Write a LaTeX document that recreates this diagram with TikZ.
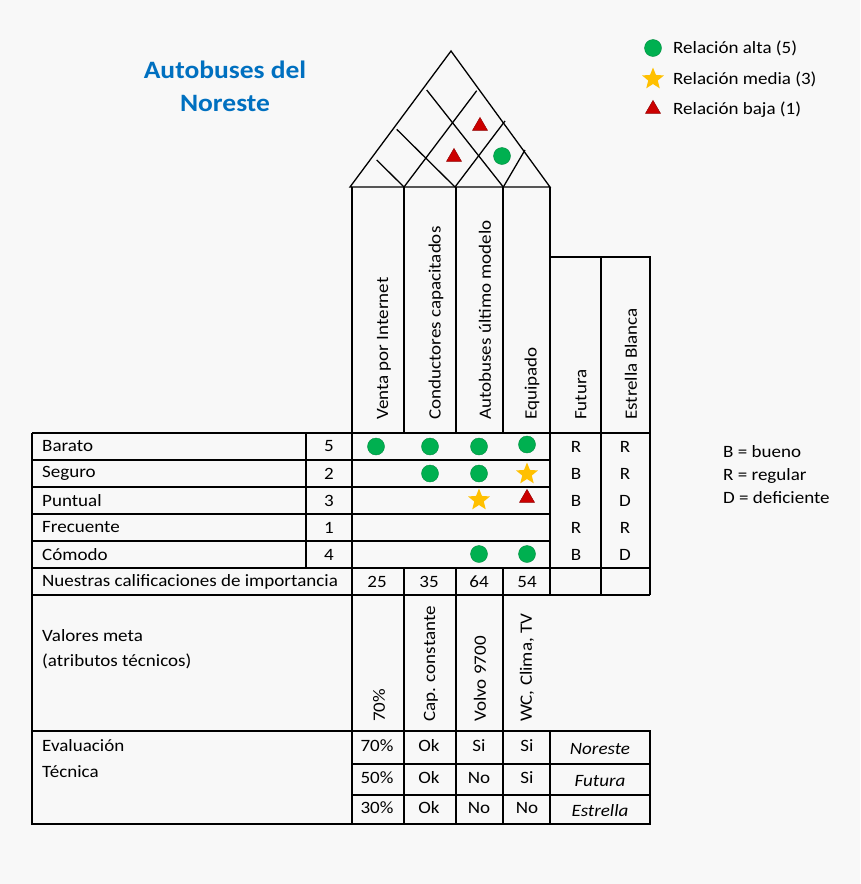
\documentclass[tikz,border=0pt]{standalone}
\usepackage{fontspec}
\setmainfont[FakeStretch=1.1]{Carlito}
\usetikzlibrary{shapes.geometric}
\definecolor{bg}{RGB}{248,248,248}
\definecolor{ttl}{RGB}{0,112,192}
\definecolor{gdot}{RGB}{0,176,80}
\definecolor{ystar}{RGB}{255,192,0}
\definecolor{rtri}{RGB}{204,0,0}
\begin{document}
\begin{tikzpicture}[x=1pt,y=-1pt,
  ln/.style={line width=1.3pt,black},
  t/.style={font=\fontsize{17.3}{20}\selectfont,inner sep=0pt},
  rt/.style={t,rotate=90,anchor=west},
  hi/.style={circle,fill=gdot,draw=gdot!80!black,line width=0.4pt,minimum size=17pt,inner sep=0pt},
  me/.style={star,star points=5,star point ratio=2.3,fill=ystar,minimum size=23pt,inner sep=0pt},
  lo/.style={isosceles triangle,isosceles triangle apex angle=60,shape border rotate=90,fill=rtri,draw=rtri!70!black,line width=0.4pt,minimum size=13pt,inner sep=0pt}]
\fill[bg] (0,0) rectangle (860,884);
\useasboundingbox (0,0) rectangle (860,884);
% title
\node[font=\fontsize{25}{33}\selectfont\bfseries,text=ttl,align=center] (title) at (225,86) {Autobuses del\\Noreste};
% legend
\node[hi] (l1) at (653,48) {}; \node[t,anchor=west] (l1t) at (673,48) {Relación alta (5)};
\node[me] (l2) at (653,79) {}; \node[t,anchor=west] (l2t) at (673,79) {Relación media (3)};
\node[lo] (l3) at (653,109) {}; \node[t,anchor=west] (l3t) at (673,110) {Relación baja (1)};
% right key
\node[t,anchor=west] (k1) at (723,452) {B = bueno};
\node[t,anchor=west] (k2) at (723,476) {R = regular};
\node[t,anchor=west] (k3) at (723,498) {D = deficiente};
% roof
\draw[ln] (350,187) -- (451,51) -- (550,187) -- cycle;
\draw[ln] (426.7,90) -- (503.3,187);
\draw[ln] (396.7,129.3) -- (455,187);
\draw[ln] (376.7,160) -- (404,187);
\draw[ln] (404,187) -- (476.7,90.7);
\draw[ln] (455,187) -- (505,121);
\draw[ln] (503.3,187) -- (525,150);
\node[lo] (r1) at (480,126) {};
\node[lo] (r2) at (454,157) {};
\node[hi] (r3) at (502,156) {};
% header columns
\draw[ln] (352,187) -- (352,824);
\foreach \x in {404,456,503} {\draw[ln] (\x,187) -- (\x,433); \draw[ln] (\x,568) -- (\x,824);}
\draw[ln] (550,187) -- (550,595);
\draw[ln] (550,257) -- (650,257) -- (650,595);
\draw[ln] (601,257) -- (601,595);
\draw[ln] (32,433) -- (650,433);
\foreach \y in {460,487,514,541} \draw[ln] (32,\y) -- (550,\y);
\draw[ln] (32,568) -- (650,568);
\draw[ln] (32,595) -- (650,595);
\draw[ln] (32,433) -- (32,824) -- (650,824) -- (650,731) -- (32,731);
\draw[ln] (306,433) -- (306,568);
\draw[ln] (550,731) -- (550,824);
\draw[ln] (352,764) -- (650,764);
\draw[ln] (352,795) -- (650,795);
% header texts
\node[rt] (h1) at (384,420) {Venta por Internet};
\node[rt] (h2) at (436,420) {Conductores capacitados};
\node[rt] (h3) at (485,420) {Autobuses último modelo};
\node[rt] (h4) at (532,420) {Equipado};
\node[rt] (h5) at (581,420) {Futura};
\node[rt] (h6) at (631,420) {Estrella Blanca};
% rows
\foreach \n/\txt/\w/\f/\e [count=\i] in {a/Barato/5/R/R,b/Seguro/2/B/R,c/Puntual/3/B/D,d/Frecuente/1/R/R,e/Cómodo/4/B/D} {
  \node[t,anchor=west] (w\n) at (42,446.5+27*\i-27) {\txt};
  \node[t] (n\n) at (329,446.5+27*\i-27) {\w};
  \node[t] (f\n) at (576,446.5+27*\i-27) {\f};
  \node[t] (s\n) at (625,446.5+27*\i-27) {\e};
}
% relationships
\node[hi] (m11) at (376,446.5) {}; \node[hi] (m12) at (430,446.5) {};
\node[hi] (m13) at (479,446.5) {}; \node[hi] (m14) at (527,444.5) {};
\node[hi] (m22) at (430,473.5) {}; \node[hi] (m23) at (479,473.5) {};
\node[me] (m24) at (527,474) {};
\node[me] (m33) at (479,500) {}; \node[lo] (m34) at (527,498) {};
\node[hi] (m53) at (479,554) {}; \node[hi] (m54) at (527,554) {};
% importance
\node[t,anchor=west] (imp) at (42,581.5) {Nuestras calificaciones de importancia};
\node[t] (i1) at (377,581.5) {25}; \node[t] (i2) at (429,581.5) {35};
\node[t] (i3) at (479,581.5) {64}; \node[t] (i4) at (527,581.5) {54};
% target values
\node[t,anchor=west,align=left] (vm) at (42,649) {Valores meta\\[5pt](atributos técnicos)};
\node[rt] (v1) at (379,722) {70\%};
\node[rt] (v2) at (431,722) {Cap. constante};
\node[rt] (v3) at (480,722) {Volvo 9700};
\node[rt] (v4) at (527,722) {WC, Clima, TV};
% evaluation
\node[t,anchor=west,align=left] (ev) at (42,759) {Evaluación\\[6pt]Técnica};
\foreach \a/\b/\c/\d/\e [count=\i] in {70\%/Ok/Si/Si/Noreste,50\%/Ok/No/Si/Futura,30\%/Ok/No/No/Estrella} {
  \pgfmathsetmacro{\yy}{\i==1 ? 746 : (\i==2 ? 778 : 808)}
  \node[t] (ea\i) at (377,\yy) {\a};
  \node[t] (eb\i) at (429,\yy) {\b};
  \node[t] (ec\i) at (479,\yy) {\c};
  \node[t] (ed\i) at (527,\yy) {\d};
  \node[t,font=\fontsize{17.3}{20}\selectfont\itshape] (ee\i) at (600,\yy+3) {\e};
}
\end{tikzpicture}
\end{document}
